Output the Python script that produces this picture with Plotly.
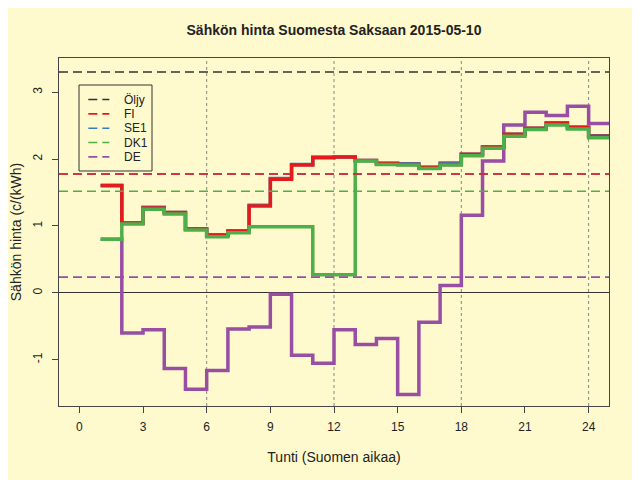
import plotly.graph_objects as go

# tuntihinnat, c/kWh (tunti 1 = 00-01 Suomen aikaa)
hours = list(range(1, 25))
fi = [1.60, 1.04, 1.27, 1.20, 0.95, 0.86, 0.92, 1.30, 1.70, 1.91, 2.02, 2.03,
      1.98, 1.93, 1.92, 1.87, 1.92, 2.07, 2.18, 2.37, 2.46, 2.54, 2.47, 2.34]
se1 = [1.61, 1.05, 1.28, 1.20, 0.96, 0.87, 0.93, 1.31, 1.71, 1.92, 2.03, 2.03,
       1.98, 1.94, 1.93, 1.88, 1.94, 2.07, 2.18, 2.37, 2.46, 2.54, 2.48, 2.35]
dk1 = [0.80, 1.03, 1.25, 1.18, 0.94, 0.84, 0.90, 0.99, 0.99, 0.99, 0.27, 0.27,
       1.97, 1.92, 1.91, 1.86, 1.91, 2.05, 2.16, 2.34, 2.44, 2.51, 2.45, 2.32]
de = [0.80, -0.60, -0.55, -1.13, -1.44, -1.16, -0.54, -0.51, -0.02, -0.93, -1.05, -0.55,
      -0.77, -0.68, -1.52, -0.44, 0.11, 1.16, 1.97, 2.51, 2.70, 2.65, 2.79, 2.53]

# vertailutasot (katkoviivat)
ref_names = ["Öljy", "FI", "SE1", "DK1", "DE"]
ref_levels = [3.30, 1.776, 1.776, 1.52, 0.235]
ref_colors = ["#333333", "#E41A1C", "#377EB8", "#4DAF4A", "#984EA3"]

x_ticks = [0, 3, 6, 9, 12, 15, 18, 21, 24]
y_ticks = [-1, 0, 1, 2, 3]
y_tick_labels = ["-1", "0", "1", "2", "3"]
grid_hours = [6, 12, 18, 24]
x_range = [-0.96, 24.96]
y_range = [-1.69, 3.51]

bg = "#FFFACD"
ink = "#222222"
dash = "9px,5px"

fig = go.Figure()

# askelkäyrät, viimeinen arvo toistetaan tunnin loppuun
xs = hours + [hours[-1] + 1]
for vals, col in [(de, "#984EA3"), (se1, "#377EB8"), (fi, "#E41A1C"), (dk1, "#4DAF4A")]:
    fig.add_trace(go.Scatter(x=xs, y=vals + [vals[-1]], mode="lines",
                             line=dict(color=col, width=3.5, shape="hv"),
                             showlegend=False, hoverinfo="skip"))

# keskiarvot (SE1 piirretään FI:n alle)
for i in [0, 2, 1, 3, 4]:
    fig.add_trace(go.Scatter(x=x_range, y=[ref_levels[i]] * 2, mode="lines",
                             name=ref_names[i], showlegend=False,
                             line=dict(color=ref_colors[i], width=1.6, dash=dash)))

for h in grid_hours:
    fig.add_vline(x=h, line=dict(color="#888888", width=1, dash="dot"), layer="below")

# selite käsin, R:n legend()-tyyliin
lx0, lx1, ly0, ly1 = 0.0364, 0.1691, 0.6753, 0.9224
fig.add_shape(type="rect", xref="paper", yref="paper", x0=lx0, x1=lx1, y0=ly0, y1=ly1,
              line=dict(color="#333333", width=1), fillcolor=bg)
row_y = 0.8807
for name, col in zip(ref_names, ref_colors):
    fig.add_shape(type="line", xref="paper", yref="paper", x0=0.0533, x1=0.0915,
                  y0=row_y, y1=row_y, line=dict(color=col, width=1.6, dash=dash))
    fig.add_annotation(xref="paper", yref="paper", x=0.1140, y=row_y, text=name,
                       showarrow=False, xanchor="left", yanchor="middle",
                       font=dict(size=12, color=ink))
    row_y -= 0.0412

fig.update_layout(
    width=632, height=472,
    paper_bgcolor=bg, plot_bgcolor=bg,
    font=dict(family="Liberation Sans, Arial, sans-serif", size=12, color=ink),
    margin=dict(l=51, r=31, t=50, b=74, autoexpand=False),
    title=dict(text="<b>Sähkön hinta Suomesta Saksaan 2015-05-10</b>",
               xref="paper", x=0.5, xanchor="center", y=0.953, yanchor="middle",
               font=dict(size=14, color=ink)),
    showlegend=False,
    xaxis=dict(range=x_range, tickvals=x_ticks, showgrid=False, zeroline=False,
               automargin=False,
               showline=True, linecolor="#444444", linewidth=1, mirror=True,
               ticks="outside", ticklen=6, tickcolor="#444444", ticklabelstandoff=4,
               title=dict(text="Tunti (Suomen aikaa)", standoff=18)),
    yaxis=dict(range=y_range, tickvals=y_ticks, ticktext=y_tick_labels, showgrid=False,
               automargin=False,
               zeroline=True, zerolinecolor="#333333", zerolinewidth=1,
               showline=True, linecolor="#444444", linewidth=1, mirror=True,
               ticks="outside", ticklen=6, tickcolor="#444444", tickangle=-90,
               ticklabelstandoff=5,
               title=dict(text="Sähkön hinta (c/(kWh)", standoff=14)),
)

fig.write_html("out.html")
